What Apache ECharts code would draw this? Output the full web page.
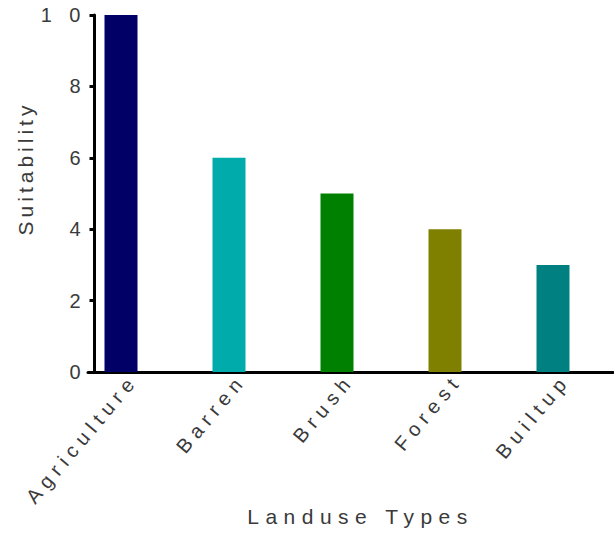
<!DOCTYPE html>
<html>
<head>
<meta charset="utf-8">
<script src="https://cdn.jsdelivr.net/npm/echarts@6/dist/echarts.min.js"></script>
<style>
  html, body { margin: 0; padding: 0; background: #fff; }
  #main { width: 614px; height: 534px; }
</style>
</head>
<body>
<div id="main"></div>
<script>
const categories = ['Agriculture', 'Barren', 'Brush', 'Forest', 'Builtup'];
const suitability = [10, 6, 5, 4, 3];
const barColors = ['#000066', '#00ABAB', '#008000', '#808000', '#008080'];
const yTickLabels = ['0', '2', '4', '6', '8', '1 0'];
const xTitle = 'Landuse Types';
const yTitle = 'Suitability';

const FONT = '"Liberation Sans", Arial, sans-serif';
const TEXT = '#3a3a3a';

const chart = echarts.init(document.getElementById('main'), null, { renderer: 'svg' });

chart.setOption({
  animation: false,
  backgroundColor: '#ffffff',
  grid: [
    { left: 67, right: 7, top: 15, bottom: 162 },
    { left: 88, right: 1, top: 15, bottom: 162 }
  ],
  xAxis: [
    {
      type: 'category', gridIndex: 0, data: categories,
      axisLine: { show: false }, axisTick: { show: false },
      axisLabel: {
        interval: 0, rotate: 50, margin: 20, padding: [0, -20, 0, 0],
        color: TEXT, fontFamily: FONT, fontSize: 20
      }
    },
    {
      type: 'value', gridIndex: 1, min: 0, max: 1,
      axisLine: { show: true, lineStyle: { color: '#000', width: 3 } },
      axisTick: { show: false }, axisLabel: { show: false }, splitLine: { show: false },
      name: xTitle, nameLocation: 'middle', nameGap: 134,
      nameTextStyle: { color: TEXT, fontFamily: FONT, fontSize: 21, padding: [0, 0, 0, 20] }
    }
  ],
  yAxis: [
    {
      type: 'value', gridIndex: 0, min: 0, max: 10, interval: 2, offset: -27.5,
      axisLine: { show: true, lineStyle: { color: '#000', width: 3 } },
      axisTick: { show: true, length: 5, lineStyle: { color: '#000', width: 3 } },
      splitLine: { show: false },
      axisLabel: {
        margin: 8, color: TEXT, fontFamily: FONT, fontSize: 20, padding: [0, 0, 8, 0],
        formatter: function (v) { return yTickLabels[Math.round(v / 2)]; }
      },
      name: yTitle, nameLocation: 'middle', nameGap: 59,
      nameTextStyle: { color: TEXT, fontFamily: FONT, fontSize: 21, padding: [0, 0, 0, 50] }
    },
    {
      type: 'value', gridIndex: 1, show: false, min: 0, max: 1
    }
  ],
  series: [
    {
      type: 'bar', xAxisIndex: 0, yAxisIndex: 0,
      barWidth: 33,
      data: suitability.map(function (v, i) {
        return { value: v, itemStyle: { color: barColors[i] } };
      })
    }
  ]
});

function applySpacing() {
  const texts = document.querySelectorAll('#main svg text');
  texts.forEach(function (t) {
    const s = t.textContent;
    let ls = '6px';
    if (s === yTitle) ls = '4px';
    else if (s === xTitle) ls = '6.5px';
    t.style.letterSpacing = ls;
  });
}
applySpacing();
chart.on('finished', applySpacing);
chart.on('rendered', applySpacing);
</script>
</body>
</html>
